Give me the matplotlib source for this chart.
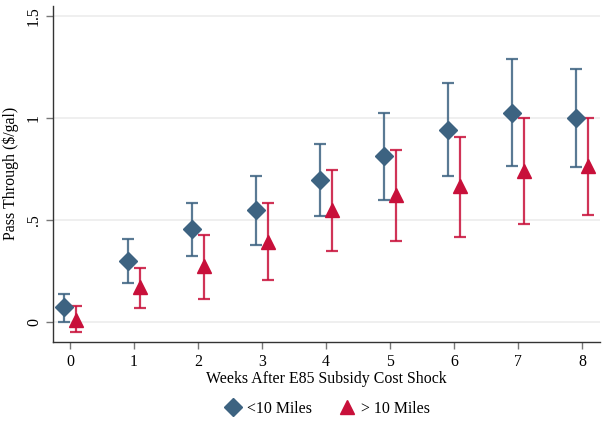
import matplotlib.pyplot as plt

plt.rcParams['font.family'] = ['Liberation Serif', 'DejaVu Serif']

# weeks after the shock
weeks = [0, 1, 2, 3, 4, 5, 6, 7, 8]

# stations within 10 miles
near_est = [0.073, 0.298, 0.455, 0.548, 0.699, 0.813, 0.944, 1.025, 0.999]
near_lo = [0.001, 0.192, 0.327, 0.380, 0.522, 0.600, 0.718, 0.764, 0.761]
near_hi = [0.141, 0.408, 0.584, 0.715, 0.875, 1.024, 1.171, 1.287, 1.238]

# stations beyond 10 miles
far_est = [0.012, 0.172, 0.274, 0.395, 0.551, 0.625, 0.666, 0.743, 0.767]
far_lo = [-0.048, 0.071, 0.115, 0.208, 0.349, 0.400, 0.418, 0.483, 0.528]
far_hi = [0.079, 0.266, 0.429, 0.586, 0.746, 0.846, 0.906, 0.999, 1.002]

yticks = [0, 0.5, 1, 1.5]
ytick_labels = ['0', '.5', '1', '1.5']

blue = '#3d6381'
red = '#c8103a'

fig = plt.figure(figsize=(6.05, 4.23), dpi=100)
ax = fig.add_axes([0.0876, 0.1915, 0.904, 0.795])

def draw(ax, offset, est, lo, hi, color, marker, ms, label):
    xs = [w + offset for w in weeks]
    err = [[e - l for e, l in zip(est, lo)], [h - e for e, h in zip(est, hi)]]
    ax.errorbar(xs, est, yerr=err, fmt='none', ecolor=color, elinewidth=1.6,
                capsize=4, capthick=1.6, alpha=0.85, zorder=3)
    ax.plot(xs, est, linestyle='none', marker=marker, ms=ms, color=color,
            label=label, zorder=4)

draw(ax, -0.1, near_est, near_lo, near_hi, blue, 'D', 9, '<10 Miles')
draw(ax, 0.1, far_est, far_lo, far_hi, red, '^', 10, '> 10 Miles')

ax.set_xlim(-0.266, 8.28)
ax.set_ylim(-0.096, 1.55)
ax.set_xticks(weeks)
ax.set_yticks(yticks)
ax.set_yticklabels(ytick_labels, rotation=90, va='center')
ax.tick_params(axis='both', length=5, width=1, color='#777777', labelsize=11.4)
ax.tick_params(axis='y', pad=3)

ax.grid(True, axis='y', color='#eeeeee', linewidth=1.3)
ax.set_axisbelow(True)
for side in ['top', 'right']:
    ax.spines[side].set_visible(False)
for side in ['left', 'bottom']:
    ax.spines[side].set_color('#333333')
    ax.spines[side].set_linewidth(1)

ax.set_xlabel('Weeks After E85 Subsidy Cost Shock', fontsize=11.4, labelpad=1)
ax.set_ylabel('Pass Through ($/gal)', fontsize=11.4, labelpad=5)

fig.legend(loc='center', bbox_to_anchor=(0.54, 0.033), ncol=2, frameon=False,
           fontsize=11.4, handletextpad=0.3, columnspacing=1.6, handlelength=1.2)

fig.savefig('out.png', dpi=100, facecolor='white')
